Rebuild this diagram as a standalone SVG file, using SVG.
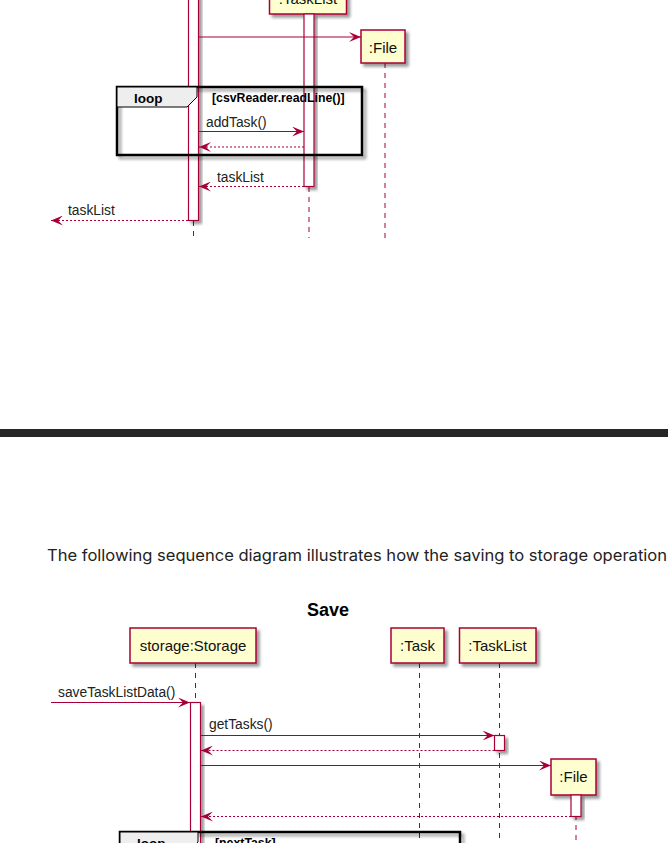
<svg xmlns="http://www.w3.org/2000/svg" width="668" height="843" viewBox="0 0 668 843">
<style>
.life{stroke:#A80036;stroke-width:1;stroke-dasharray:5,5;fill:none}
.box{fill:#FEFECE;stroke:#A80036;stroke-width:1.5}
.act{fill:#FFFFFF;stroke:#A80036;stroke-width:1.2}
.msg{stroke:#A80036;stroke-width:1.2;fill:none}
.ret{stroke:#A80036;stroke-width:1.2;fill:none;stroke-dasharray:2,2}
.pt{font-family:"Liberation Sans",Arial,sans-serif;font-size:15px;fill:#111;text-anchor:middle}
.mt{font-family:"Liberation Sans",Arial,sans-serif;font-size:13.8px;fill:#222}
.frame{fill:none;stroke:#000;stroke-width:2.5}
.tab{fill:#EEEEEE;stroke:#000;stroke-width:1}
.lt{font-family:"Liberation Sans",Arial,sans-serif;font-size:13.5px;font-weight:bold;fill:#000}
.gt{font-family:"Liberation Sans",Arial,sans-serif;font-size:12.3px;font-weight:bold;fill:#000}
</style>
<defs>
<filter id="sh" x="-20%" y="-20%" width="160%" height="160%">
<feGaussianBlur in="SourceAlpha" stdDeviation="1.8"/>
<feOffset dx="3" dy="3" result="b"/>
<feComponentTransfer><feFuncA type="linear" slope="0.4"/></feComponentTransfer>
<feMerge><feMergeNode/><feMergeNode in="SourceGraphic"/></feMerge>
</filter>
<marker id="ah" viewBox="0 0 12 10" refX="12" refY="5" markerWidth="12" markerHeight="10" markerUnits="userSpaceOnUse" orient="auto">
<path d="M0,0 L12,5 L0,10 L5,5 Z" fill="#A80036"/>
</marker>
</defs>
<rect x="0" y="0" width="668" height="843" fill="#FFFFFF"/>

<!-- ===== Top (load) diagram ===== -->
<g id="top-lifelines">
<line class="life" x1="193.5" y1="221" x2="193.5" y2="240"/>
<line class="life" x1="309" y1="187" x2="309" y2="238"/>
<line class="life" x1="385" y1="63" x2="385" y2="240"/>
</g>
<g id="top-storage">
<rect class="act" x="188.5" y="-5" width="10" height="225.5" filter="url(#sh)"/>
</g>
<g id="top-tasklist">
<rect class="box" x="269.5" y="-20" width="77" height="34" filter="url(#sh)"/>
<text class="pt" x="308" y="4">:TaskList</text>
<rect class="act" x="304" y="14" width="10" height="172.5" filter="url(#sh)"/>
</g>
<g id="top-file">
<rect class="box" x="361" y="30" width="44" height="33" filter="url(#sh)"/>
<text class="pt" x="383" y="53">:File</text>
</g>
<g id="top-loop">
<rect class="frame" x="117" y="87" width="245" height="68" filter="url(#sh)"/>
<path class="tab" d="M117,87 L197,87 L197,97 L187,107 L117,107 Z"/>
<text class="lt" x="134" y="103">loop</text>
<text class="gt" x="212" y="102">[csvReader.readLine()]</text>
</g>
<g id="top-connectors">
<line class="msg" x1="199" y1="37" x2="361" y2="37" marker-end="url(#ah)"/>
<line class="msg" x1="199" y1="131.5" x2="304" y2="131.5" marker-end="url(#ah)"/>
<text class="mt" x="206" y="127">addTask()</text>
<line class="ret" x1="304" y1="147" x2="199" y2="147" marker-end="url(#ah)"/>
<line class="ret" x1="304" y1="186.5" x2="199" y2="186.5" marker-end="url(#ah)"/>
<text class="mt" x="217" y="182">taskList</text>
<line class="ret" x1="188" y1="220.5" x2="51" y2="220.5" marker-end="url(#ah)"/>
<text class="mt" x="68" y="215">taskList</text>
</g>

<!-- ===== Separator and paragraph ===== -->
<rect id="separator" x="0" y="429" width="668" height="8" fill="#262626"/>
<text x="47" y="561" font-family="Inter,'Liberation Sans',Arial,sans-serif" font-size="16" fill="#222" textLength="620" lengthAdjust="spacingAndGlyphs">The following sequence diagram illustrates how the saving to storage operation</text>

<!-- ===== Bottom (save) diagram ===== -->
<text x="328" y="616" font-family="'Liberation Sans',Arial,sans-serif" font-size="18" font-weight="bold" text-anchor="middle" fill="#000">Save</text>
<g id="bottom-lifelines">
<line class="life" x1="195.5" y1="663" x2="195.5" y2="843"/>
<line class="life" x1="419.5" y1="663" x2="419.5" y2="843"/>
<line class="life" x1="499.5" y1="663" x2="499.5" y2="843"/>
<line class="life" x1="576" y1="795" x2="576" y2="843"/>
</g>
<g id="storage">
<rect class="box" x="130" y="628" width="126" height="35" filter="url(#sh)"/>
<text class="pt" x="193" y="651">storage:Storage</text>
<rect class="act" x="190.5" y="702.5" width="10" height="160" filter="url(#sh)"/>
</g>
<g id="task">
<rect class="box" x="391" y="628" width="53" height="35" filter="url(#sh)"/>
<text class="pt" x="417.5" y="651">:Task</text>
</g>
<g id="tasklist">
<rect class="box" x="459.5" y="628" width="76.5" height="35" filter="url(#sh)"/>
<text class="pt" x="497.5" y="651">:TaskList</text>
<rect class="act" x="494.5" y="735.5" width="10" height="15" filter="url(#sh)"/>
</g>
<g id="file">
<rect class="box" x="551" y="759" width="45" height="36" filter="url(#sh)"/>
<text class="pt" x="573.5" y="782">:File</text>
<rect class="act" x="571" y="795" width="10" height="21.5" filter="url(#sh)"/>
</g>
<g id="bottom-loop">
<rect class="frame" x="120" y="832" width="340" height="100" filter="url(#sh)"/>
<path class="tab" d="M120,832 L198,832 L198,842 L188,852 L120,852 Z"/>
<text class="lt" x="137" y="848">loop</text>
<text class="gt" x="215" y="847">[nextTask]</text>
</g>
<g id="bottom-connectors">
<line class="msg" x1="51" y1="702.5" x2="190" y2="702.5" marker-end="url(#ah)"/>
<text class="mt" x="58" y="697">saveTaskListData()</text>
<line class="msg" x1="201" y1="735.5" x2="494.5" y2="735.5" marker-end="url(#ah)"/>
<text class="mt" x="209" y="729">getTasks()</text>
<line class="ret" x1="494.5" y1="750.5" x2="201" y2="750.5" marker-end="url(#ah)"/>
<line class="msg" x1="201" y1="765.5" x2="551" y2="765.5" marker-end="url(#ah)"/>
<line class="ret" x1="571" y1="816.5" x2="201" y2="816.5" marker-end="url(#ah)"/>
</g>
</svg>
